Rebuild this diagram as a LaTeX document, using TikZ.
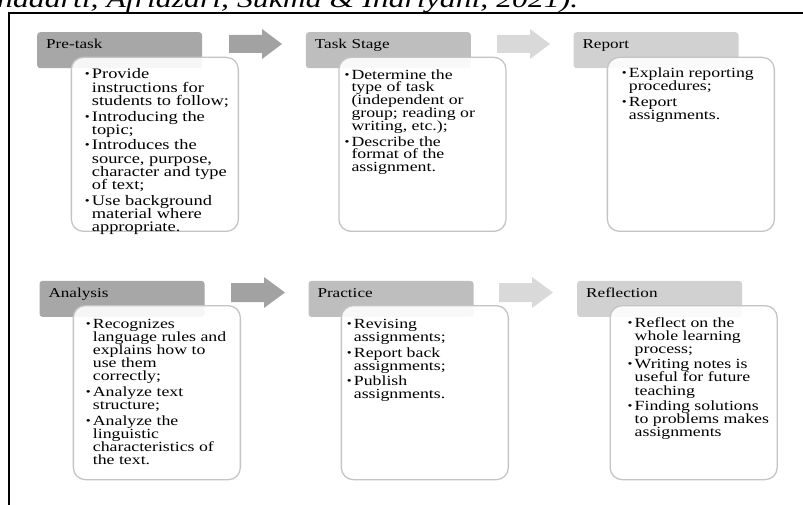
\documentclass[tikz,border=0pt]{standalone}
\usepackage{fontspec}
\setmainfont{Liberation Serif}[FakeStretch=1.27]
\usetikzlibrary{positioning}

\definecolor{headdark}{HTML}{A7A7A7}
\definecolor{headmid}{HTML}{BEBEBE}
\definecolor{headlight}{HTML}{D1D1D1}
\definecolor{arrowdark}{HTML}{A2A2A2}
\definecolor{arrowlight}{HTML}{D9D9D9}
\definecolor{cardline}{HTML}{C4C4C4}

\newcommand{\itm}{\makebox[7pt][l]{\raisebox{1pt}{\fontsize{11}{11}\selectfont\textbullet}}}
\newcommand{\ind}{\hspace*{7pt}}
\setlength{\lineskiplimit}{-5pt}

\begin{document}
\begin{tikzpicture}[x=1pt, y=-1pt,
    head/.style={rectangle, rounded corners=3pt, anchor=north west,
        minimum width=165pt, minimum height=36pt, inner xsep=9pt,
        text width=147pt, align=left, text height=8pt, text depth=11pt,
        font=\fontsize{13.5}{15}\selectfont},
    card/.style={rectangle, rounded corners=12pt, anchor=north west,
        draw=cardline, line width=1.3pt, fill=white, fill opacity=0.9,
        minimum width=167pt, minimum height=174pt},
    items/.style={anchor=north west, inner sep=0pt, align=left,
        font=\fontsize{14}{13.1}\selectfont}]
    \useasboundingbox (0,0) rectangle (803,505);
    \clip (0,0) rectangle (803,505);

    % Cut-off line of text above the frame
    \node[anchor=base west, inner sep=0pt, font=\itshape\fontsize{25}{25}\selectfont]
        (cite) at (-3,8) {nadarti, Afriazari, Sukma \& Indriyani, 2021).};

    % Frame
    \draw[line width=2pt] (803,13.5) -- (9,13.5) -- (9,505);

    % Block arrows between the stages
    \fill[arrowdark] (229,35) -- (262,35) -- (262,29) -- (282,44) -- (262,59) -- (262,53) -- (229,53) -- cycle;
    \fill[arrowlight] (497,35) -- (530,35) -- (530,29) -- (550,44) -- (530,59) -- (530,53) -- (497,53) -- cycle;
    \fill[arrowdark] (231,283) -- (264,283) -- (264,277) -- (285,292.5) -- (264,308) -- (264,302) -- (231,302) -- cycle;
    \fill[arrowlight] (499,283) -- (532,283) -- (532,277) -- (553,292.5) -- (532,308) -- (532,302) -- (499,302) -- cycle;

    % Pre-task
    \node[head, fill=headdark] (pretask) at (37,32) {Pre-task};
    \node[card] (pretaskcard) at (70.7,56.7) {};
    \node[items, font=\fontsize{14.5}{13.2}\selectfont, below right=12pt and 14pt of pretaskcard.north west] (pretasktext) {%
        \itm Provide\\ \ind instructions for\\ \ind students to follow;\\[2.5pt]
        \itm Introducing the\\ \ind topic;\\[2.5pt]
        \itm Introduces the\\ \ind source, purpose,\\ \ind character and type\\ \ind of text;\\[2.5pt]
        \itm Use background\\ \ind material where\\ \ind appropriate.};

    % Task Stage
    \node[head, fill=headmid] (taskstage) at (305.7,32) {Task Stage};
    \node[card] (taskstagecard) at (338.3,56.7) {};
    \node[items, font=\fontsize{14}{12.8}\selectfont, below right=12.5pt and 6pt of taskstagecard.north west] (taskstagetext) {%
        \itm Determine the\\ \ind type of task\\ \ind (independent or\\ \ind group; reading or\\ \ind writing, etc.);\\[3pt]
        \itm Describe the\\ \ind format of the\\ \ind assignment.};

    % Report
    \node[head, fill=headlight] (report) at (573.3,32) {Report};
    \node[card] (reportcard) at (606.7,56.7) {};
    \node[items, below right=11pt and 15pt of reportcard.north west] (reporttext) {%
        \itm Explain reporting\\ \ind procedures;\\[3pt]
        \itm Report\\ \ind assignments.};

    % Analysis
    \node[head, fill=headdark] (analysis) at (39.3,280.7) {Analysis};
    \node[card] (analysiscard) at (72.7,305) {};
    \node[items, below right=14pt and 13pt of analysiscard.north west] (analysistext) {%
        \itm Recognizes\\ \ind language rules and\\ \ind explains how to\\ \ind use them\\ \ind correctly;\\[2.5pt]
        \itm Analyze text\\ \ind structure;\\[2.5pt]
        \itm Analyze the\\ \ind linguistic\\ \ind characteristics of\\ \ind the text.};

    % Practice
    \node[head, fill=headmid] (practice) at (308.3,280.7) {Practice};
    \node[card] (practicecard) at (340.7,305) {};
    \node[items, below right=14pt and 6pt of practicecard.north west] (practicetext) {%
        \itm Revising\\ \ind assignments;\\[2.5pt]
        \itm Report back\\ \ind assignments;\\[2.5pt]
        \itm Publish\\ \ind assignments.};

    % Reflection
    \node[head, fill=headlight] (reflection) at (577,280.7) {Reflection};
    \node[card] (reflectioncard) at (609.5,305) {};
    \node[items, below right=12pt and 18pt of reflectioncard.north west] (reflectiontext) {%
        \itm Reflect on the\\ \ind whole learning\\ \ind process;\\[2.5pt]
        \itm Writing notes is\\ \ind useful for future\\ \ind teaching\\[2.5pt]
        \itm Finding solutions\\ \ind to problems makes\\ \ind assignments};
\end{tikzpicture}
\end{document}
